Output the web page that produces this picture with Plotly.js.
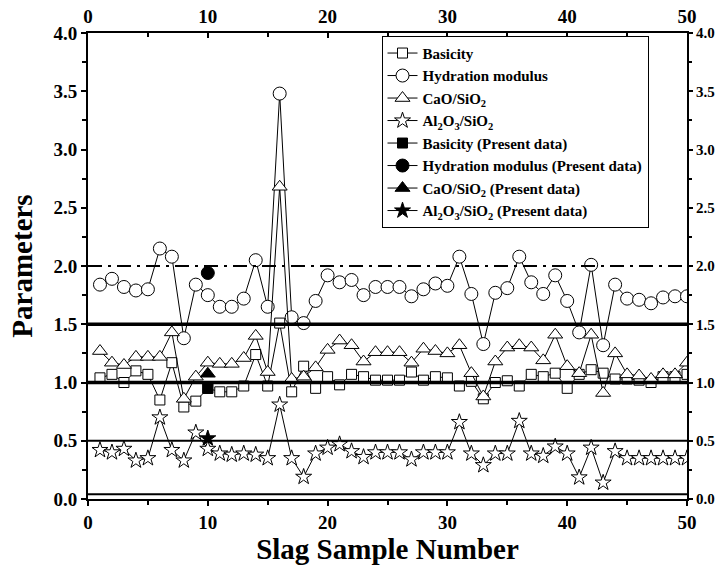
<!DOCTYPE html>
<html>
<head>
<meta charset="utf-8">
<script src="https://cdn.plot.ly/plotly-3.0.1.min.js"></script>
<style>html,body{margin:0;padding:0;background:#fff;}#chart{width:718px;height:566px;}</style>
</head>
<body>
<div id="chart"></div>
<script>
// ---- data ----
const sampleNumbers = Array.from({length: 50}, (_, i) => i + 1);

const basicity = [1.04,1.07,1.00,1.10,1.07,0.85,1.17,0.79,0.84,0.95,
                  0.92,0.92,0.97,1.24,0.97,1.51,0.92,1.14,0.95,1.05,
                  0.98,1.07,1.05,1.02,1.02,1.02,1.09,1.02,1.05,1.04,
                  0.97,1.01,0.86,1.00,1.015,0.97,1.07,1.05,1.08,0.95,
                  1.07,1.11,1.08,1.03,1.03,1.02,1.00,1.05,1.05,1.07];

const hydrationModulus = [1.84,1.89,1.82,1.79,1.80,2.15,2.08,1.38,1.84,1.75,
                          1.65,1.65,1.72,2.05,1.65,3.48,1.56,1.51,1.70,1.92,
                          1.86,1.88,1.75,1.82,1.82,1.82,1.74,1.80,1.85,1.83,
                          2.08,1.76,1.33,1.77,1.81,2.08,1.86,1.76,1.92,1.70,
                          1.43,2.01,1.32,1.84,1.72,1.71,1.68,1.73,1.74,1.74];

const caoSio2 = [1.27,1.17,1.15,1.22,1.22,1.22,1.43,0.86,1.05,1.17,
                 1.16,1.16,1.21,1.40,1.09,2.68,1.03,1.05,1.13,1.28,
                 1.36,1.32,1.18,1.26,1.26,1.26,1.17,1.29,1.27,1.25,
                 1.32,1.08,0.88,1.18,1.30,1.32,1.30,1.19,1.41,1.14,
                 1.08,1.41,0.91,1.25,1.07,1.06,1.03,1.07,1.07,1.17];

const al2o3Sio2 = [0.42,0.40,0.43,0.33,0.35,0.70,0.42,0.33,0.57,0.43,
                   0.39,0.38,0.39,0.38,0.35,0.81,0.35,0.19,0.39,0.44,
                   0.47,0.41,0.36,0.40,0.40,0.40,0.34,0.40,0.40,0.40,
                   0.66,0.39,0.29,0.39,0.39,0.67,0.39,0.37,0.45,0.39,
                   0.185,0.44,0.14,0.41,0.35,0.35,0.35,0.35,0.35,0.35];

// present data (sample 10)
const presentSample = [10];
const presentBasicity = [0.95];
const presentHydration = [1.94];
const presentCaoSio2 = [1.075];
const presentAl2o3Sio2 = [0.52];

// reference levels
const dashDotLevel = 2.0;
const solidLevels = [1.5, 1.0];
const thinLevels = [0.5, 0.04];

const xTicks = [0, 10, 20, 30, 40, 50];
const yTicks = [0, 0.5, 1.0, 1.5, 2.0, 2.5, 3.0, 3.5, 4.0];

// ---- plot ----
const FONT = '"Liberation Serif", "Times New Roman", serif';
function openTrace(name, y, symbol, size) {
  return {x: sampleNumbers, y: y, name: name, type: 'scatter', mode: 'lines+markers',
    line: {color: '#000', width: 1},
    marker: {symbol: symbol, size: size, color: '#fff', line: {color: '#000', width: 1}}};
}
function filledTrace(name, y, symbol, size) {
  return {x: presentSample, y: y, name: name, type: 'scatter', mode: 'lines+markers',
    line: {color: '#000', width: 1},
    marker: {symbol: symbol, size: size, color: '#000', line: {color: '#000', width: 1}}};
}

const traces = [
  openTrace('Basicity', basicity, 'square', 10),
  openTrace('Hydration modulus', hydrationModulus, 'circle', 13),
  openTrace('CaO/SiO<sub>2</sub>', caoSio2, 'triangle-up', 13),
  openTrace('Al<sub>2</sub>O<sub>3</sub>/SiO<sub>2</sub>', al2o3Sio2, 'star', 12),
  filledTrace('Basicity (Present data)', presentBasicity, 'square', 10),
  filledTrace('Hydration modulus (Present data)', presentHydration, 'circle', 13),
  filledTrace('CaO/SiO<sub>2</sub> (Present data)', presentCaoSio2, 'triangle-up', 13),
  filledTrace('Al<sub>2</sub>O<sub>3</sub>/SiO<sub>2</sub> (Present data)', presentAl2o3Sio2, 'star', 12),
  {x: xTicks, y: yTicks.slice(0, xTicks.length), xaxis: 'x2', yaxis: 'y2', type: 'scatter', mode: 'markers',
   marker: {opacity: 0}, showlegend: false, hoverinfo: 'skip'}
];

const shapes = [];
shapes.push({type: 'line', xref: 'paper', x0: 0, x1: 1, yref: 'y', y0: dashDotLevel, y1: dashDotLevel,
  line: {color: '#000', width: 2, dash: '14px,6px,3px,6px'}});
solidLevels.forEach(v => shapes.push({type: 'line', xref: 'paper', x0: 0, x1: 1, yref: 'y', y0: v, y1: v,
  line: {color: '#000', width: 3.5}}));
thinLevels.forEach(v => shapes.push({type: 'line', xref: 'paper', x0: 0, x1: 1, yref: 'y', y0: v, y1: v,
  line: {color: '#000', width: 2}}));

const tickFont = {family: FONT, size: 19, color: '#000', weight: 'bold'};
const axisCommon = {showgrid: false, zeroline: false, showline: true, linecolor: '#000', linewidth: 2,
  tickcolor: '#000', tickwidth: 2, ticklen: 5, tickfont: tickFont};

const layout = {
  width: 718, height: 566,
  margin: {l: 88, r: 31, t: 33, b: 67},
  paper_bgcolor: '#fff', plot_bgcolor: '#fff',
  showlegend: true,
  legend: {x: 0.49, y: 0.994, xanchor: 'left', yanchor: 'top', bgcolor: '#fff',
    bordercolor: '#000', borderwidth: 1, tracegroupgap: 0,
    font: {family: FONT, size: 15, color: '#000', weight: 'bold'}},
  xaxis: Object.assign({}, axisCommon, {range: [0, 50], tickvals: xTicks, ticks: 'outside',
    minor: {dtick: 5, ticks: 'outside', ticklen: 4, tickcolor: '#000', tickwidth: 2},
    title: {text: 'Slag Sample Number', font: {family: FONT, size: 29, color: '#000', weight: 'bold'}, standoff: 6}}),
  yaxis: Object.assign({}, axisCommon, {range: [0, 4], tickvals: yTicks, tickformat: '.1f', ticks: 'outside',
    minor: {dtick: 0.25, ticks: 'outside', ticklen: 4, tickcolor: '#000', tickwidth: 2},
    title: {text: 'Parameters', font: {family: FONT, size: 29, color: '#000', weight: 'bold'}, standoff: 12}}),
  xaxis2: Object.assign({}, axisCommon, {overlaying: 'x', side: 'top', range: [0, 50], tickvals: xTicks,
    ticks: 'inside', minor: {dtick: 5, ticks: 'inside', ticklen: 4, tickcolor: '#000', tickwidth: 2}}),
  yaxis2: Object.assign({}, axisCommon, {overlaying: 'y', side: 'right', range: [0, 4], tickvals: yTicks,
    tickformat: '.1f', ticks: 'outside', ticklen: 4, tickfont: Object.assign({}, tickFont, {size: 15}),
    minor: {dtick: 0.25, ticks: 'outside', ticklen: 3, tickcolor: '#000', tickwidth: 2}}),
  shapes: shapes
};

Plotly.newPlot('chart', traces, layout, {displayModeBar: false, staticPlot: true});
</script>
</body>
</html>
